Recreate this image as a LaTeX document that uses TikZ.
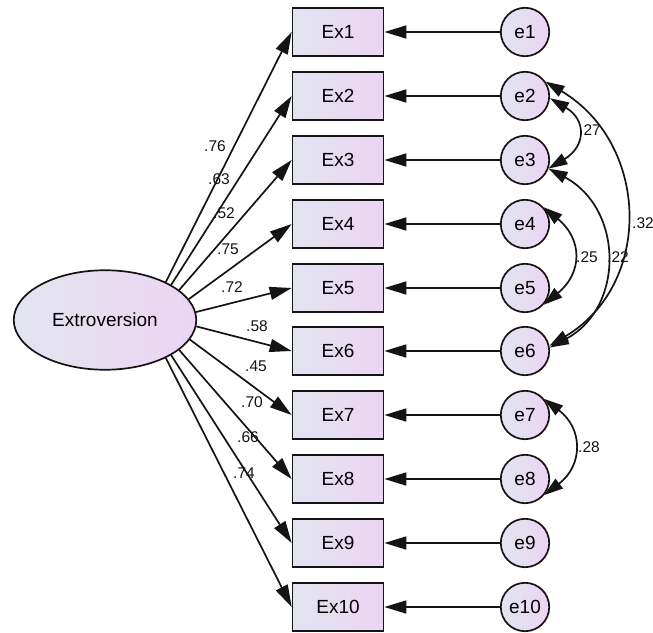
\documentclass[tikz,border=0pt]{standalone}
\usepackage{fontspec}
\setmainfont{Liberation Sans}
\usetikzlibrary{arrows.meta,shapes.geometric}
\definecolor{fillL}{RGB}{226,229,240}
\definecolor{fillR}{RGB}{236,212,243}
\definecolor{inkc}{RGB}{20,20,20}
\begin{document}
\begin{tikzpicture}[x=1pt,y=-1pt,
  shade/.style={left color=fillL, right color=fillR},
  obs/.style={shade, draw=inkc, line width=1.7pt, rectangle, minimum width=91pt,
    minimum height=48.5pt, inner sep=0pt, font=\fontsize{19}{22}\selectfont},
  err/.style={shade, draw=inkc, line width=1.7pt, circle, minimum size=48.4pt,
    inner sep=0pt, font=\fontsize{19}{22}\selectfont},
  lat/.style={shade, draw=inkc, line width=1.7pt, ellipse, minimum width=182.5pt,
    minimum height=99.5pt, inner sep=0pt, font=\fontsize{19}{22}\selectfont},
  load/.style={draw=inkc, line width=1.7pt, -{Triangle[length=22pt,width=13pt]}},
  cov/.style={draw=inkc, line width=1.7pt,
    {Triangle[length=19pt,width=12pt]}-{Triangle[length=19pt,width=12pt]}},
  coef/.style={font=\fontsize{15.5}{18}\selectfont, inner sep=0pt, text=inkc}
]
\useasboundingbox (0,0) rectangle (653,632);

% latent factor
\node[lat] (F) at (105,320) {Extroversion};

% indicators with their error terms
\foreach \i/\yy in {1/32,2/96,3/160,4/224,5/288,6/351,7/415,8/479,9/543,10/607}{
  \node[obs] (x\i) at (338,\yy) {Ex\i};
  \node[err] (e\i) at (525,\yy) {e\i};
  \draw[load] (e\i) -- (x\i);
}

% factor loadings
\foreach \i/\a in {1/32,2/28,3/22,4/14,5/5,6/-4,7/-13,8/-22,9/-28,10/-32}{
  \draw[load] (F.\a) -- (x\i.west);
}

% standardized loadings
\node[coef] (l1)  at (215,146) {.76};
\node[coef] (l2)  at (219,179) {.63};
\node[coef] (l3)  at (224,213) {.52};
\node[coef] (l4)  at (228,249) {.75};
\node[coef] (l5)  at (232,287) {.72};
\node[coef] (l6)  at (257,326) {.58};
\node[coef] (l7)  at (256,366) {.45};
\node[coef] (l8)  at (252,402) {.70};
\node[coef] (l9)  at (248,437) {.66};
\node[coef] (l10) at (244,473) {.74};

% error covariances
\draw[cov] (e2.-5) .. controls +(37,22) and +(37,-22) .. (e3.-20);
\draw[cov] (e2.35) .. controls +(104,62) and +(104,-62) .. (e6.12);
\draw[cov] (e3.-20) .. controls +(75,40) and +(75,-40) .. (e6.8);
\draw[cov] (e4.42) .. controls +(39,32) and +(39,-32) .. (e5.-42);
\draw[cov] (e7.40) .. controls +(39,30) and +(39,-30) .. (e8.-40);

\node[coef] (c27) at (590,130) {.27};
\node[coef] (c32) at (643,223) {.32};
\node[coef] (c25) at (587,257) {.25};
\node[coef] (c22) at (618,257) {.22};
\node[coef] (c28) at (589,447) {.28};
\end{tikzpicture}
\end{document}
